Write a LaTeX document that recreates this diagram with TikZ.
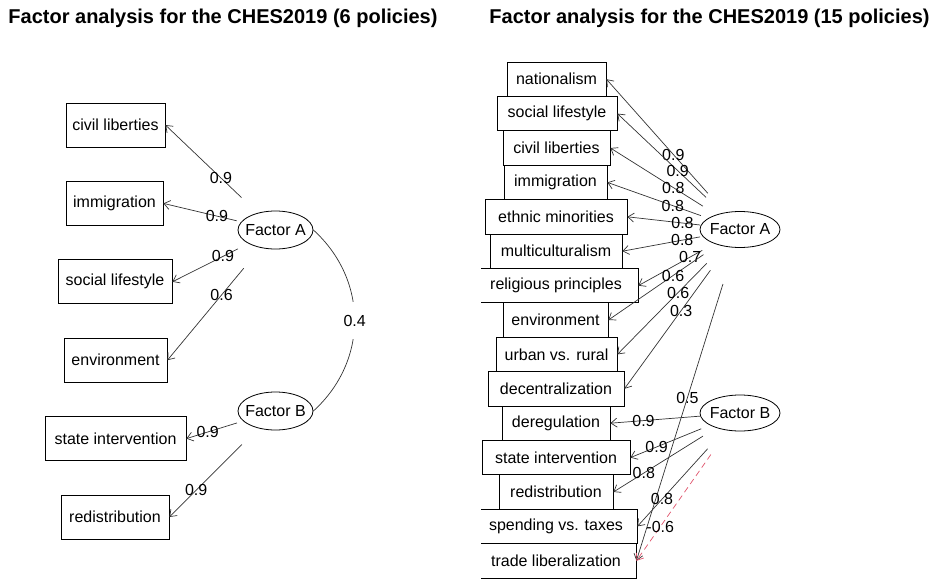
\documentclass[tikz,border=0pt]{standalone}
\usepackage{fontspec}
\setmainfont{Liberation Sans}
\usetikzlibrary{shapes.geometric,arrows.meta}
\tikzset{
	var/.style={draw, line width=0.8pt, inner sep=0pt, font=\fontsize{16}{19}\selectfont},
	lat/.style={draw, ellipse, line width=0.8pt, inner sep=0pt, font=\fontsize{16}{19}\selectfont},
	hull/.style={ellipse, inner sep=0pt},
	ld/.style={font=\fontsize{16}{19}\selectfont, inner sep=1pt},
	load/.style={->, draw=black!80, line width=0.7pt},
	ttl/.style={font=\fontsize{20}{24}\selectfont\bfseries, anchor=base}
}
\begin{document}
\begin{tikzpicture}[x=1pt, y=-1pt, >={Straight Barb[length=6pt,width=9pt]}]
	\useasboundingbox (0,0) rectangle (935,581);

	% Left: 6 policies
	\node[ttl] (TitleL) at (223,23) {Factor analysis for the CHES2019 (6 policies)};
	\node[var, minimum width=99, minimum height=44] (CivilL) at (115.5,125) {civil liberties};
	\node[var, minimum width=97, minimum height=44] (ImmigL) at (114.5,203.4) {immigration};
	\node[var, minimum width=114, minimum height=44] (SocialL) at (115,281.8) {social lifestyle};
	\node[var, minimum width=103, minimum height=44] (EnvL) at (115.5,360.2) {environment};
	\node[var, minimum width=141, minimum height=44] (StateL) at (115.5,438.6) {state intervention};
	\node[var, minimum width=108, minimum height=44] (RedistL) at (115,517) {redistribution};

	\node[lat, minimum width=75, minimum height=38] (FactorAL) at (275.5,230) {\makebox[0pt]{Factor A}};
	\node[lat, minimum width=75, minimum height=38] (FactorBL) at (275.5,411) {\makebox[0pt]{Factor B}};
	\node[hull, minimum width=78, minimum height=130] (HullAL) at (FactorAL) {};
	\node[hull, minimum width=78, minimum height=130] (HullBL) at (FactorBL) {};

	\draw[load] (HullAL) -- node[ld, pos=0.27] {0.9} (CivilL.east);
	\draw[load] (HullAL) -- node[ld, pos=0.27] {0.9} (ImmigL.east);
	\draw[load] (HullAL) -- node[ld, pos=0.23] {0.9} (SocialL.east);
	\draw[load] (HullAL) -- node[ld, pos=0.29] {0.6} (EnvL.east);
	\draw[load] (HullBL) -- node[ld, pos=0.58] {0.9} (StateL.east);
	\draw[load] (HullBL) -- node[ld, pos=0.63] {0.9} (RedistL.east);

	\draw[draw=black!80, line width=0.7pt] (FactorAL.east) .. controls +(55,50) and +(55,-50) .. (FactorBL.east)
		node[ld, midway, fill=white, inner xsep=2pt, inner ysep=13pt] (CorAB) {0.4};

	% Right: 15 policies
	\node[ttl] (TitleR) at (709.5,23) {Factor analysis for the CHES2019 (15 policies)};
	\begin{scope}
		\clip (481,40) rectangle (935,581);
		\node[var, minimum width=99, minimum height=34.4] (Nat) at (556.5,79.2) {nationalism};
		\node[var, minimum width=120, minimum height=34.4] (Social) at (557,113.6) {social lifestyle};
		\node[var, minimum width=107, minimum height=34.4] (Civil) at (556.5,148) {civil liberties};
		\node[var, minimum width=103, minimum height=34.4] (Immig) at (555.5,182.4) {immigration};
		\node[var, minimum width=142, minimum height=34.4] (Ethnic) at (556,216.8) {ethnic minorities};
		\node[var, minimum width=132, minimum height=34.4] (Multi) at (556,251.2) {multiculturalism};
		\node[var, minimum width=164, minimum height=34.4] (Relig) at (556,285.6) {religious principles};
		\node[var, minimum width=105, minimum height=34.4] (Env) at (555.5,320) {environment};
		\node[var, minimum width=121, minimum height=34.4] (Urban) at (556.5,354.4) {urban vs. rural};
		\node[var, minimum width=136, minimum height=34.4] (Decent) at (556,388.8) {decentralization};
		\node[var, minimum width=108, minimum height=34.4] (Dereg) at (556,423.2) {deregulation};
		\node[var, minimum width=148, minimum height=34.4] (State) at (556,457.6) {state intervention};
		\node[var, minimum width=114, minimum height=34.4] (Redist) at (556,492) {redistribution};
		\node[var, minimum width=162, minimum height=34.4] (Spend) at (556,526.4) {spending vs. taxes};
		\node[var, minimum width=160, minimum height=34.4] (Trade) at (556,560.8) {trade liberalization};
	\end{scope}

	\node[lat, minimum width=80, minimum height=36] (FactorAR) at (740,229.5) {\makebox[0pt]{Factor A}};
	\node[lat, minimum width=80, minimum height=36] (FactorBR) at (740,413) {\makebox[0pt]{Factor B}};
	\node[hull, minimum width=80, minimum height=120] (HullAR) at (FactorAR) {};
	\node[hull, minimum width=80, minimum height=120] (HullBR) at (FactorBR) {};

	\draw[load] (HullAR) -- node[ld, pos=0.34] {0.9} (Nat.east);
	\draw[load] (HullAR) -- node[ld, pos=0.32] {0.9} (Social.east);
	\draw[load] (HullAR) -- node[ld, pos=0.32] {0.8} (Civil.east);
	\draw[load] (HullAR) -- node[ld, pos=0.30] {0.8} (Immig.east);
	\draw[load] (HullAR) -- node[ld, pos=0.24] {0.8} (Ethnic.east);
	\draw[load] (HullAR) -- node[ld, pos=0.23] {0.8} (Multi.east);
	\draw[load] (HullAR) -- node[ld, pos=0.19] {0.7} (Relig.east);
	\draw[load] (HullAR) -- node[ld, pos=0.32] {0.6} (Env.east);
	\draw[load] (HullAR) -- node[ld, pos=0.32] {0.6} (Urban.east);
	\draw[load] (HullAR) -- node[ld, pos=0.34] {0.3} (Decent.east);
	\draw[load] (HullAR) -- node[ld, pos=0.41] {0.5} (Trade.east);

	\draw[load] (HullBR) -- node[ld, pos=0.63] {0.9} (Dereg.east);
	\draw[load] (HullBR) -- node[ld, pos=0.63] {0.9} (State.east);
	\draw[load] (HullBR) -- node[ld, pos=0.66] {0.8} (Redist.east);
	\draw[load] (HullBR) -- node[ld, pos=0.65] {0.8} (Spend.east);
	\draw[load, draw={rgb,255:red,223;green,83;blue,107}, dash pattern=on 6pt off 4pt] (HullBR) -- node[ld, pos=0.68, text=black] {-0.6} (Trade.east);
\end{tikzpicture}
\end{document}
